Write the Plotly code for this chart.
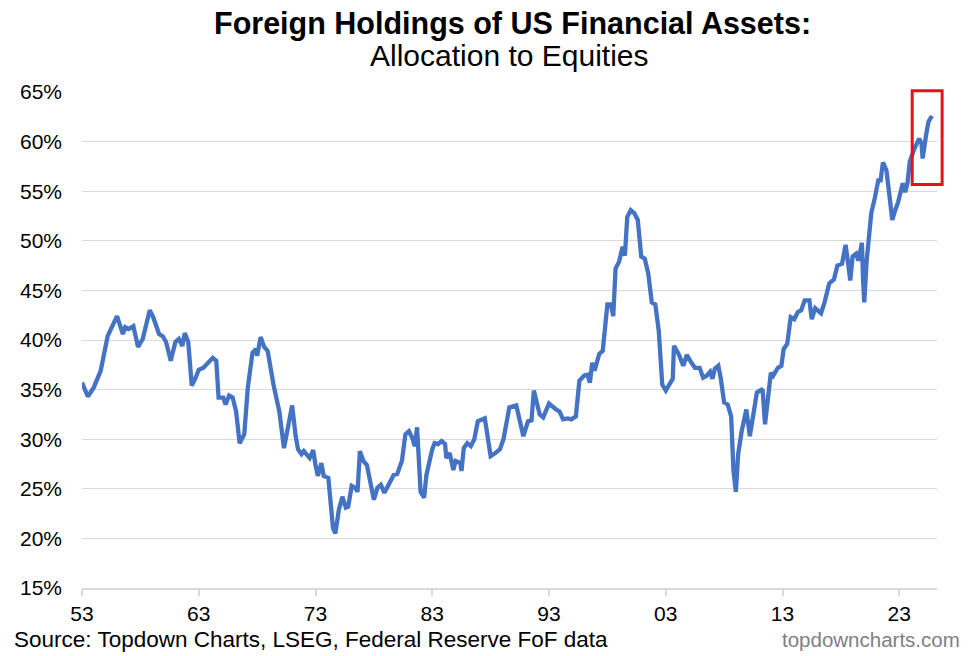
import plotly.graph_objects as go

# allocation to equities (% of foreign holdings of US financial assets)
years = [
    1953.0, 1953.5, 1954.0, 1954.6, 1955.2, 1955.6, 1956.0, 1956.5, 1956.7, 1957.0,
    1957.4, 1957.8, 1958.2, 1958.8, 1959.1, 1959.6, 1959.9, 1960.2, 1960.6, 1961.0,
    1961.3, 1961.6, 1961.8, 1962.1, 1962.4, 1962.7, 1963.0, 1963.4, 1963.8, 1964.2,
    1964.5, 1964.7, 1965.1, 1965.3, 1965.6, 1965.9, 1966.2, 1966.5, 1966.9, 1967.2,
    1967.6, 1967.9, 1968.0, 1968.3, 1968.6, 1968.9, 1969.4, 1969.9, 1970.3, 1970.6,
    1971.0, 1971.3, 1971.5, 1971.8, 1972.0, 1972.5, 1972.8, 1973.0, 1973.2, 1973.5,
    1973.7, 1974.1, 1974.3, 1974.5, 1974.7, 1975.0, 1975.3, 1975.6, 1975.8, 1976.1,
    1976.4, 1976.6, 1976.8, 1977.1, 1977.4, 1977.7, 1978.0, 1978.3, 1978.6, 1978.9,
    1979.1, 1979.4, 1979.7, 1980.0, 1980.4, 1980.7, 1981.0, 1981.3, 1981.5, 1981.7,
    1982.0, 1982.3, 1982.5, 1983.0, 1983.2, 1983.5, 1983.8, 1984.1, 1984.2, 1984.5,
    1984.8, 1985.0, 1985.4, 1985.5, 1985.7, 1986.0, 1986.3, 1986.6, 1986.9, 1987.5,
    1987.8, 1988.0, 1988.4, 1988.8, 1989.1, 1989.6, 1990.2, 1990.8, 1991.2, 1991.5,
    1991.7, 1992.2, 1992.5, 1993.0, 1993.6, 1993.9, 1994.2, 1994.6, 1994.9, 1995.3,
    1995.6, 1996.0, 1996.3, 1996.5, 1996.7, 1996.9, 1997.3, 1997.6, 1998.0, 1998.3,
    1998.5, 1998.7, 1999.0, 1999.3, 1999.5, 1999.7, 2000.0, 2000.3, 2000.6, 2000.9,
    2001.2, 2001.5, 2001.8, 2002.1, 2002.4, 2002.7, 2003.0, 2003.4, 2003.6, 2003.7,
    2004.1, 2004.5, 2004.8, 2005.2, 2005.5, 2005.9, 2006.2, 2006.5, 2006.8, 2007.0,
    2007.2, 2007.5, 2007.7, 2008.0, 2008.3, 2008.6, 2008.8, 2009.0, 2009.2, 2009.5,
    2009.9, 2010.2, 2010.5, 2010.8, 2011.2, 2011.3, 2011.5, 2011.8, 2012.0, 2012.2,
    2012.6, 2012.9, 2013.1, 2013.4, 2013.7, 2014.0, 2014.3, 2014.6, 2014.9, 2015.3,
    2015.5, 2015.8, 2016.3, 2016.6, 2017.0, 2017.4, 2017.7, 2018.1, 2018.4, 2018.6,
    2018.8, 2019.0, 2019.3, 2019.5, 2019.8, 2019.9, 2020.0, 2020.2, 2020.6, 2020.9,
    2021.2, 2021.4, 2021.6, 2021.9, 2022.2, 2022.4, 2022.6, 2022.9, 2023.3, 2023.5,
    2023.7, 2023.9, 2024.3, 2024.7, 2024.9, 2025.0, 2025.3, 2025.5, 2025.8,
]
equity_share = [
    35.7, 34.3, 35.2, 36.9, 40.4, 41.4, 42.4, 40.6, 41.3, 41.1,
    41.4, 39.3, 40.1, 43.0, 42.3, 40.6, 40.4, 39.8, 37.9, 39.8,
    40.1, 39.4, 40.7, 39.8, 35.4, 36.1, 37.0, 37.2, 37.7, 38.2,
    37.9, 34.2, 34.2, 33.5, 34.4, 34.2, 32.8, 29.6, 30.5, 35.2,
    38.7, 39.1, 38.4, 40.3, 39.3, 38.9, 35.5, 32.8, 29.1, 31.0,
    33.4, 30.3, 29.0, 28.5, 28.8, 28.1, 28.9, 27.4, 26.3, 27.6,
    26.3, 26.1, 23.7, 21.0, 20.5, 22.9, 24.2, 23.1, 23.2, 25.3,
    25.1, 24.7, 28.8, 27.8, 27.4, 25.4, 23.9, 25.1, 25.4, 24.6,
    25.1, 25.6, 26.4, 26.5, 27.8, 30.5, 30.8, 30.1, 29.3, 31.2,
    24.7, 24.1, 26.4, 29.0, 29.6, 29.5, 29.8, 29.5, 28.1, 28.6,
    26.9, 27.8, 27.6, 26.8, 29.1, 29.6, 29.3, 30.0, 31.8, 32.1,
    30.1, 28.3, 28.6, 29.0, 30.0, 33.2, 33.4, 30.3, 31.8, 31.9,
    34.9, 32.5, 32.2, 33.6, 33.0, 32.8, 32.0, 32.1, 32.0, 32.3,
    35.9, 36.4, 36.5, 35.7, 37.7, 36.9, 38.6, 38.9, 43.6, 43.6,
    42.4, 47.2, 47.9, 49.4, 48.5, 52.4, 53.1, 52.8, 52.1, 48.4,
    48.2, 46.7, 43.8, 43.6, 40.9, 35.5, 34.9, 35.7, 36.1, 39.4,
    38.6, 37.4, 38.5, 37.7, 37.2, 37.2, 36.2, 36.4, 36.8, 36.1,
    37.1, 37.4, 36.2, 33.7, 33.5, 32.3, 26.8, 24.7, 28.5, 30.8,
    33.0, 30.3, 32.5, 34.7, 35.0, 34.9, 31.5, 34.5, 36.7, 36.4,
    37.2, 37.4, 39.1, 39.6, 42.3, 42.1, 42.8, 43.0, 44.0, 44.0,
    42.1, 43.2, 42.7, 43.8, 45.7, 46.1, 47.5, 47.7, 49.6, 47.9,
    46.0, 48.4, 48.7, 48.0, 49.8, 46.0, 43.8, 47.9, 52.8, 54.3,
    56.1, 56.1, 57.9, 57.1, 54.4, 52.1, 52.9, 53.9, 55.8, 54.9,
    55.8, 58.0, 59.3, 60.3, 59.8, 58.3, 60.7, 62.0, 62.6,
]

tick_years = [1953, 1963, 1973, 1983, 1993, 2003, 2013, 2023]
tick_text = ["53", "63", "73", "83", "93", "03", "13", "23"]
y_ticks = [15, 20, 25, 30, 35, 40, 45, 50, 55, 60, 65]
y_text = [f"{v}%" for v in y_ticks]

FONT = "Liberation Sans, Arial, sans-serif"
GRID = "#d9d9d9"

fig = go.Figure()
fig.add_trace(go.Scatter(
    x=years, y=equity_share,
    mode="lines",
    line=dict(color="#4472C4", width=4.3),
    hoverinfo="x+y",
    showlegend=False,
))

# page body has an 8px margin, so the figure is sized 8px smaller than the window
fig.update_layout(
    width=967, height=648,
    margin=dict(l=68, r=38, t=84, b=68),
    paper_bgcolor="white", plot_bgcolor="white",
    font=dict(family=FONT, color="#000000"),
    xaxis=dict(
        range=[1953, 2026.23],
        tickvals=tick_years, ticktext=tick_text,
        tickfont=dict(size=21),
        ticks="outside", ticklen=6, tickwidth=1.5, tickcolor=GRID,
        ticklabelstandoff=0,
        showline=True, linecolor=GRID, linewidth=2,
        showgrid=False, zeroline=False,
    ),
    yaxis=dict(
        range=[15, 65],
        tickvals=y_ticks, ticktext=y_text,
        tickfont=dict(size=21),
        ticklabelstandoff=19,
        showgrid=True, gridcolor=GRID, gridwidth=1.3,
        zeroline=False, showline=False,
    ),
    annotations=[
        dict(text="<b>Foreign Holdings of US Financial Assets:</b>",
             xref="paper", yref="paper", x=0.503, y=1.139,
             xanchor="center", yanchor="middle", showarrow=False,
             font=dict(size=30.5, family=FONT)),
        dict(text="Allocation to Equities",
             xref="paper", yref="paper", x=0.5, y=1.073,
             xanchor="center", yanchor="middle", showarrow=False,
             font=dict(size=30, family=FONT)),
        dict(text="Source: Topdown Charts, LSEG, Federal Reserve FoF data",
             xref="paper", yref="paper", x=-0.082, y=-0.104,
             xanchor="left", yanchor="middle", showarrow=False,
             font=dict(size=22.5, family=FONT)),
        dict(text="topdowncharts.com",
             xref="paper", yref="paper", x=1.029, y=-0.104,
             xanchor="right", yanchor="middle", showarrow=False,
             font=dict(size=20.5, family=FONT, color="#7f7f7f")),
    ],
    shapes=[
        # red highlight box around the latest readings
        dict(type="rect", xref="paper", yref="paper",
             x0=0.971, x1=1.006, y0=0.8135, y1=1.0026,
             line=dict(color="#e3131b", width=3)),
    ],
)

fig.write_html("out.html")
